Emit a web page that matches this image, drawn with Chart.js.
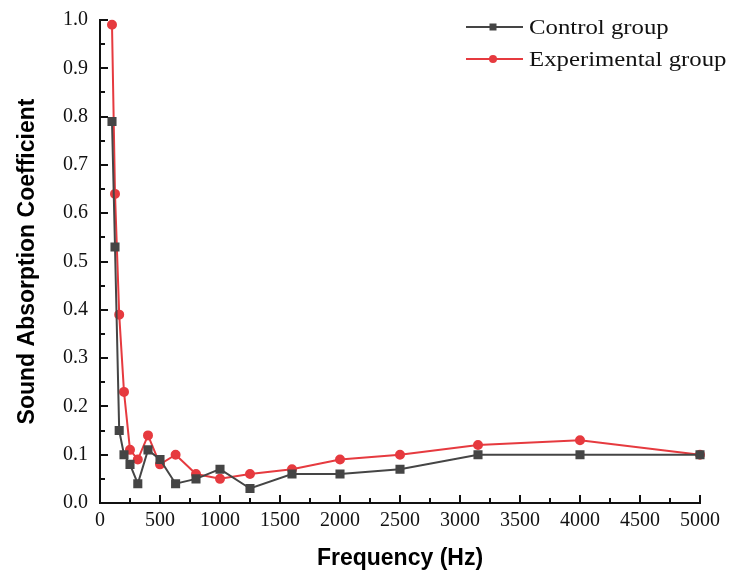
<!DOCTYPE html>
<html>
<head>
<meta charset="utf-8">
<script src="https://cdn.jsdelivr.net/npm/chart.js@4/dist/chart.umd.min.js"></script>
<style>
  body { margin: 0; background: #fff; }
  #wrap { width: 730px; height: 573px; }
</style>
</head>
<body>
<div id="wrap"><canvas id="chart" width="730" height="573"></canvas></div>
<script>
// Frequencies of the 1/3 octave bands (Hz)
const frequencies = [100, 125, 160, 200, 250, 315, 400, 500, 630, 800, 1000, 1250, 1600, 2000, 2500, 3150, 4000, 5000];
const controlGroup = [0.79, 0.53, 0.15, 0.10, 0.08, 0.04, 0.11, 0.09, 0.04, 0.05, 0.07, 0.03, 0.06, 0.06, 0.07, 0.10, 0.10, 0.10];
const experimentalGroup = [0.99, 0.64, 0.39, 0.23, 0.11, 0.09, 0.14, 0.08, 0.10, 0.06, 0.05, 0.06, 0.07, 0.09, 0.10, 0.12, 0.13, 0.10];
const seriesNames = ['Control group', 'Experimental group'];
const xTicks = [0, 500, 1000, 1500, 2000, 2500, 3000, 3500, 4000, 4500, 5000];
const yTicks = [0.0, 0.1, 0.2, 0.3, 0.4, 0.5, 0.6, 0.7, 0.8, 0.9, 1.0];

const GRAY = '#454545';
const RED = '#e63a3f';
const serif = '"Liberation Serif", "Times New Roman", serif';
const sans = '"Liberation Sans", Arial, sans-serif';

function toPoints(values) {
    return frequencies.map((f, i) => ({ x: f, y: values[i] }));
}

// Axis lines with inward ticks, plus the frameless legend in the top right
const axesPlugin = {
    id: 'axesPlugin',
    afterDraw(chart) {
        const ctx = chart.ctx;
        const area = chart.chartArea;
        const xs = chart.scales.x;
        const ys = chart.scales.y;
        ctx.save();
        ctx.strokeStyle = '#111';
        ctx.lineWidth = 2;
        ctx.beginPath();
        ctx.moveTo(area.left, area.top - 1);
        ctx.lineTo(area.left, area.bottom);
        ctx.lineTo(area.right + 1, area.bottom);
        ctx.stroke();

        // x ticks: major every 500, minor every 250
        for (let v = 0; v <= 5000; v += 250) {
            const px = Math.round(xs.getPixelForValue(v));
            const len = v % 500 === 0 ? 8 : 5;
            ctx.beginPath();
            ctx.moveTo(px, area.bottom);
            ctx.lineTo(px, area.bottom - len);
            ctx.stroke();
        }
        // y ticks: major every 0.1, minor every 0.05
        for (let k = 0; k <= 20; k++) {
            const py = Math.round(ys.getPixelForValue(k * 0.05));
            const len = k % 2 === 0 ? 8 : 5;
            ctx.beginPath();
            ctx.moveTo(area.left, py);
            ctx.lineTo(area.left + len, py);
            ctx.stroke();
        }

        // legend
        const colors = [GRAY, RED];
        const styles = ['rect', 'circle'];
        ctx.textBaseline = 'middle';
        ctx.textAlign = 'left';
        for (let i = 0; i < seriesNames.length; i++) {
            const y = 27 + i * 32;
            const x0 = 466, x1 = 523;
            ctx.strokeStyle = colors[i];
            ctx.lineWidth = 2;
            ctx.beginPath();
            ctx.moveTo(x0, y);
            ctx.lineTo(x1, y);
            ctx.stroke();
            ctx.fillStyle = colors[i];
            const cx = 493;
            if (styles[i] === 'rect') {
                ctx.fillRect(cx - 3.5, y - 3.5, 7, 7);
            } else {
                ctx.beginPath();
                ctx.arc(cx, y, 4, 0, Math.PI * 2);
                ctx.fill();
            }
            // slightly wide type, as in the original figure
            ctx.save();
            ctx.translate(529, y + 1);
            ctx.scale(1.18, 1);
            ctx.font = '21px ' + serif;
            ctx.fillStyle = '#111';
            ctx.fillText(seriesNames[i], 0, 0);
            ctx.restore();
        }
        ctx.restore();
    }
};

const ctx = document.getElementById('chart').getContext('2d');
const chart = new Chart(ctx, {
    type: 'line',
    data: {
        datasets: [
            {
                label: seriesNames[0],
                data: toPoints(controlGroup),
                borderColor: GRAY,
                backgroundColor: GRAY,
                borderWidth: 2,
                pointStyle: 'rect',
                pointRadius: 5,
                pointHoverRadius: 5,
                clip: false,
            },
            {
                label: seriesNames[1],
                data: toPoints(experimentalGroup),
                borderColor: RED,
                backgroundColor: RED,
                borderWidth: 2,
                pointStyle: 'circle',
                pointRadius: 4,
                pointHoverRadius: 4,
                clip: false,
            },
        ],
    },
    options: {
        responsive: false,
        animation: false,
        layout: { padding: { left: 0, right: 30, top: 16, bottom: 0 } },
        plugins: {
            legend: { display: false },
            tooltip: { enabled: false },
        },
        scales: {
            x: {
                type: 'linear',
                min: 0,
                max: 5000,
                afterBuildTicks: scale => { scale.ticks = xTicks.map(v => ({ value: v })); },
                afterFit: scale => { scale.height = 70; },
                grid: { display: false, drawTicks: false },
                border: { display: false },
                ticks: {
                    padding: 6,
                    maxRotation: 0,
                    autoSkip: false,
                    color: '#111',
                    font: { family: serif, size: 20 },
                    callback: v => String(v),
                },
                title: {
                    display: true,
                    text: 'Frequency (Hz)',
                    color: '#000',
                    font: { family: sans, size: 23, weight: 'bold' },
                    padding: { top: 0, bottom: 1 },
                },
            },
            y: {
                type: 'linear',
                min: 0,
                max: 1,
                afterBuildTicks: scale => { scale.ticks = yTicks.map(v => ({ value: v })); },
                afterFit: scale => { scale.width = 100; },
                grid: { display: false, drawTicks: false },
                border: { display: false },
                ticks: {
                    padding: 12,
                    color: '#111',
                    font: { family: serif, size: 20, lineHeight: 0.8 },
                    callback: v => Number(v).toFixed(1),
                },
                title: {
                    display: true,
                    text: 'Sound Absorption Coefficient',
                    color: '#000',
                    font: { family: sans, size: 23, weight: 'bold' },
                    padding: { top: 14, bottom: 0 },
                },
            },
        },
    },
    plugins: [axesPlugin],
});
</script>
</body>
</html>
